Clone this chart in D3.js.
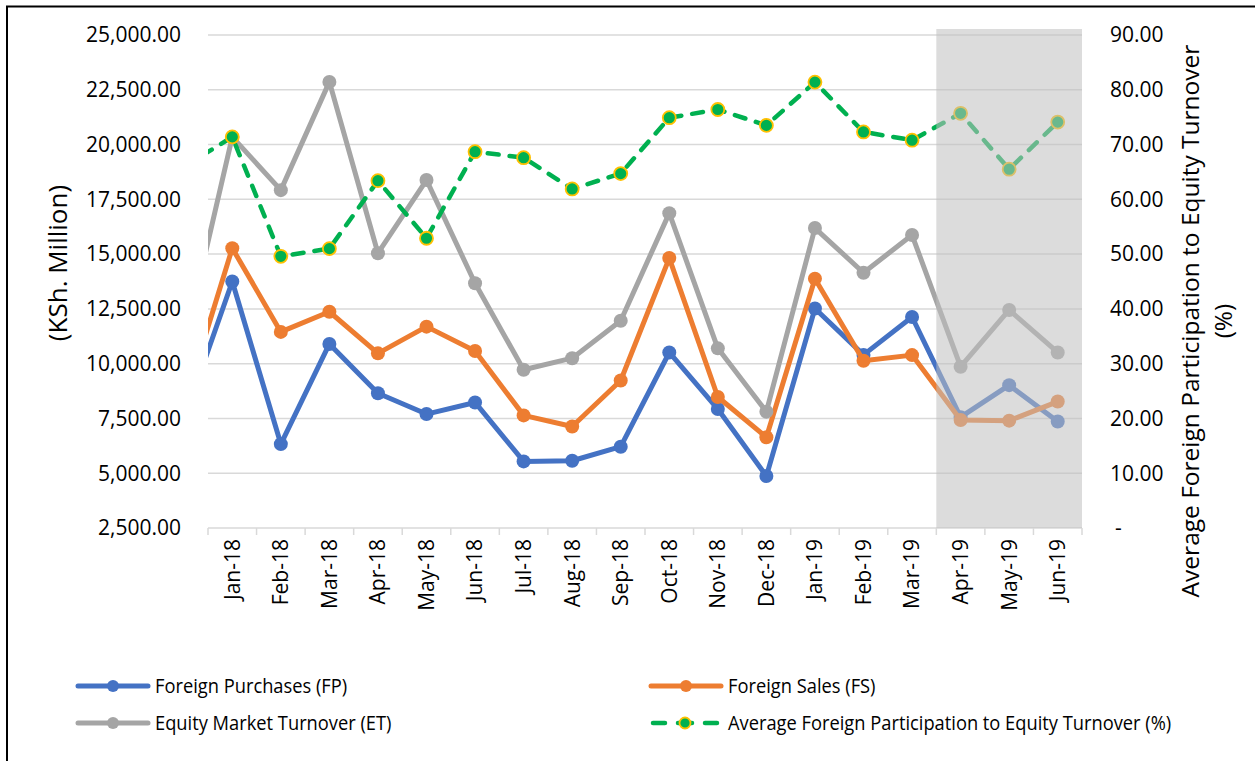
<!DOCTYPE html>
<html>
<head>
<meta charset="utf-8">
<script src="https://cdn.jsdelivr.net/npm/d3@7"></script>
<style>
  body { margin: 0; background: #fff; }
  svg { display: block; font-family: "Open Sans", sans-serif; }
</style>
</head>
<body>
<div id="chart"></div>
<script>
// months - first one sits left of the plot and is clipped (line enters from the edge)
const months = ["Dec-17", "Jan-18", "Feb-18", "Mar-18", "Apr-18", "May-18", "Jun-18", "Jul-18", "Aug-18",
  "Sep-18", "Oct-18", "Nov-18", "Dec-18", "Jan-19", "Feb-19", "Mar-19", "Apr-19", "May-19", "Jun-19"];
const shadedMonths = ["Apr-19", "May-19", "Jun-19"];

// KSh. Million
const foreignPurchases = [7430, 13750, 6330, 10900, 8650, 7700, 8230, 5540, 5570, 6210, 10510, 7930, 4870, 12520, 10400, 12130, 7560, 9020, 7360];
const foreignSales = [8070, 15270, 11450, 12370, 10470, 11690, 10580, 7640, 7130, 9230, 14820, 8480, 6640, 13880, 10130, 10390, 7430, 7400, 8270];
const equityTurnover = [10760, 20350, 17920, 22860, 15040, 18380, 13670, 9720, 10250, 11960, 16870, 10700, 7810, 16190, 14150, 15870, 9860, 12450, 10510];
// %
const avgParticipation = [65.9, 71.4, 49.6, 51.0, 63.4, 52.9, 68.7, 67.6, 61.9, 64.7, 74.9, 76.4, 73.5, 81.4, 72.3, 70.8, 75.7, 65.5, 74.1];

const leftTicks = [2500, 5000, 7500, 10000, 12500, 15000, 17500, 20000, 22500, 25000];
const rightTicks = [0, 10, 20, 30, 40, 50, 60, 70, 80, 90];

const width = 1255, height = 761;
const plotL = 208, plotR = 1082, plotT = 35, plotB = 528;
const step = (plotR - plotL) / (months.length - 1);

const svg = d3.select("#chart").append("svg")
    .attr("width", width)
    .attr("height", height);

// outer chart border (only left/top visible in the crop)
svg.append("rect")
    .attr("x", 7).attr("y", 6.5)
    .attr("width", width + 20).attr("height", height + 20)
    .attr("fill", "none").attr("stroke", "#000").attr("stroke-width", 2);

const x = d3.scaleBand()
    .domain(months)
    .range([plotL - step, plotR])
    .paddingInner(0).paddingOuter(0);
const cx = m => x(m) + x.bandwidth() / 2;

const y = d3.scaleLinear().domain([2500, 25000]).range([plotB, plotT]);
const y2 = d3.scaleLinear().domain([0, 90]).range([plotB, plotT]);

svg.append("clipPath").attr("id", "plotClip")
  .append("rect")
    .attr("x", plotL).attr("y", 0)
    .attr("width", plotR - plotL).attr("height", height);

// gridlines
svg.append("g").selectAll("line")
  .data(leftTicks.slice(1))
  .join("line")
    .attr("x1", plotL).attr("x2", plotR)
    .attr("y1", d => y(d)).attr("y2", d => y(d))
    .attr("stroke", "#d9d9d9").attr("stroke-width", 1.5);

// left tick labels
const fmt = d3.format(",.2f");
svg.append("g").selectAll("text")
  .data(leftTicks)
  .join("text")
    .attr("x", 181).attr("y", d => y(d))
    .attr("dy", "0.35em")
    .attr("text-anchor", "end")
    .attr("font-size", 21)
    .attr("fill", "#000")
    .text(d => fmt(d));

// right tick labels
svg.append("g").selectAll("text")
  .data(rightTicks)
  .join("text")
    .attr("x", d => d === 0 ? 1115 : 1110).attr("y", d => y2(d))
    .attr("dy", "0.35em")
    .attr("font-size", 21)
    .attr("fill", "#000")
    .text(d => d === 0 ? "-" : d.toFixed(2));

// x axis line and ticks between categories
const visible = months.slice(1);
const ax = svg.append("g");
ax.append("line")
    .attr("x1", plotL).attr("x2", plotR)
    .attr("y1", plotB).attr("y2", plotB)
    .attr("stroke", "#d9d9d9").attr("stroke-width", 1.5);
ax.selectAll("line.tick")
  .data(visible.concat(["end"]))
  .join("line")
    .attr("class", "tick")
    .attr("x1", d => d === "end" ? plotR : x(d))
    .attr("x2", d => d === "end" ? plotR : x(d))
    .attr("y1", plotB).attr("y2", plotB + 7)
    .attr("stroke", "#d9d9d9").attr("stroke-width", 1.5);
ax.selectAll("text")
  .data(visible)
  .join("text")
    .attr("transform", d => `translate(${cx(d)},${plotB + 11}) rotate(-90)`)
    .attr("dy", "0.35em")
    .attr("text-anchor", "end")
    .attr("font-size", 21)
    .attr("fill", "#000")
    .text(d => d);

// axis titles
svg.append("text")
    .attr("transform", "translate(58,263) rotate(-90)")
    .attr("dy", "0.35em")
    .attr("text-anchor", "middle")
    .attr("font-size", 26)
    .text("(KSh. Million)");

const rt = svg.append("text")
    .attr("transform", "translate(1190,321) rotate(-90)")
    .attr("text-anchor", "middle")
    .attr("font-size", 24.5);
rt.append("tspan").attr("x", 0).attr("dy", "0.35em").text("Average Foreign Participation to Equity Turnover");
rt.append("tspan").attr("x", 0).attr("dy", 33).text("(%)");

// series
const series = [
  { name: "Foreign Purchases (FP)", values: foreignPurchases, color: "#4472c4", scale: y },
  { name: "Foreign Sales (FS)", values: foreignSales, color: "#ed7d31", scale: y },
  { name: "Equity Market Turnover (ET)", values: equityTurnover, color: "#a5a5a5", scale: y },
  { name: "Average Foreign Participation to Equity Turnover (%)", values: avgParticipation, color: "#00b050", scale: y2, dashed: true }
];

const plot = svg.append("g").attr("clip-path", "url(#plotClip)");

series.forEach(s => {
  const pts = months.map((m, i) => [cx(m), s.scale(s.values[i])]);
  const line = d3.line();
  plot.append("path")
      .attr("d", line(pts))
      .attr("fill", "none")
      .attr("stroke", s.color)
      .attr("stroke-width", s.dashed ? 4.5 : 5)
      .attr("stroke-linejoin", "round")
      .attr("stroke-linecap", "round")
      .attr("stroke-dasharray", s.dashed ? "11,11" : null);
  plot.selectAll(null)
    .data(pts)
    .join("circle")
      .attr("cx", d => d[0]).attr("cy", d => d[1])
      .attr("r", s.dashed ? 6.5 : 7)
      .attr("fill", s.color)
      .attr("stroke", s.dashed ? "#ffc000" : "none")
      .attr("stroke-width", 1.8);
});

// shaded region on top of the last three months
const shadeX = x(shadedMonths[0]);
svg.append("rect")
    .attr("x", shadeX).attr("y", 29)
    .attr("width", plotR - shadeX).attr("height", plotB - 29)
    .attr("fill", "#bfbfbf").attr("opacity", 0.55);

// legend
const legendPos = [[78, 686], [651, 686], [78, 723], [651, 723]];
series.forEach((s, i) => {
  const [lx, ly] = legendPos[i];
  const g = svg.append("g").attr("transform", `translate(${lx},${ly})`);
  g.append("line")
      .attr("x1", s.dashed ? 2 : 0).attr("x2", s.dashed ? 66 : 70).attr("y1", 0).attr("y2", 0)
      .attr("stroke", s.color)
      .attr("stroke-width", s.dashed ? 4.5 : 5)
      .attr("stroke-linecap", "round")
      .attr("stroke-dasharray", s.dashed ? "12,13,14,13,12" : null);
  g.append("circle")
      .attr("cx", s.dashed ? 34 : 35).attr("cy", 0)
      .attr("r", s.dashed ? 5.5 : 6)
      .attr("fill", s.color)
      .attr("stroke", s.dashed ? "#ffc000" : "none")
      .attr("stroke-width", 1.8);
  g.append("text")
      .attr("transform", "translate(77,0) scale(0.915,1)")
      .attr("dy", "0.35em")
      .attr("font-size", 20)
      .text(s.name);
});
</script>
</body>
</html>
